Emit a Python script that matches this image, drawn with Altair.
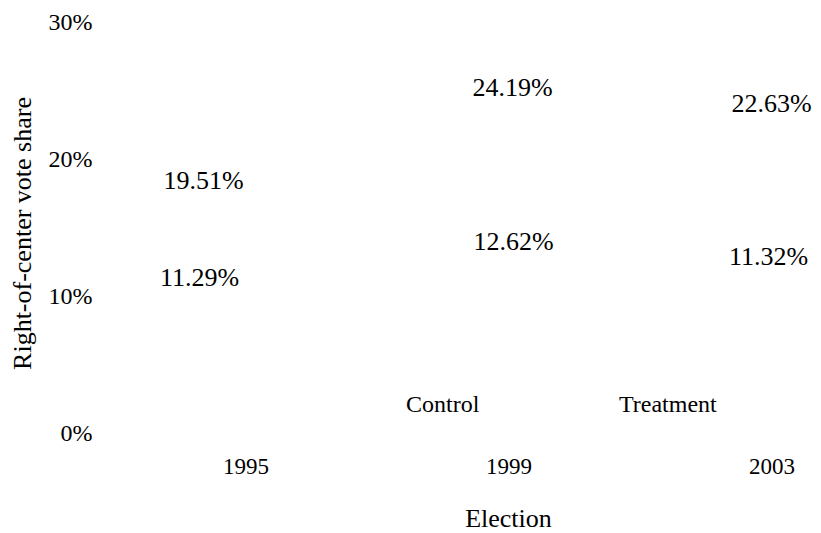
import altair as alt
import pandas as pd

years = [1995, 1999, 2003]
control = [11.29, 12.62, 11.32]
treatment = [19.51, 24.19, 22.63]
groups = ["Control", "Treatment"]
y_ticks = [0, 10, 20, 30]

rows = []
for i, yr in enumerate(years):
    rows.append({"year": yr, "group": "Control", "share": control[i]})
    rows.append({"year": yr, "group": "Treatment", "share": treatment[i]})
df = pd.DataFrame(rows)
df["label"] = df["share"].map(lambda v: f"{v:.2f}%")

FONT = "Liberation Serif"

x = alt.X(
    "year:Q",
    scale=alt.Scale(domain=[1993, 2003.6], nice=False, zero=False),
    axis=alt.Axis(
        values=years, format="d", title="Election", domain=False, ticks=False,
        grid=False, labelPadding=22, labelFontSize=23, labelFont=FONT,
        labelColor="black", titleFontSize=26, titleFont=FONT, titleFontWeight="normal",
        titleColor="black", titleX=394, titleY=72,
    ),
)
y = alt.Y(
    "share:Q",
    scale=alt.Scale(domain=[0, 30], nice=False),
    axis=alt.Axis(
        values=y_ticks, labelExpr="datum.value + '%'", title="Right-of-center vote share",
        domain=False, ticks=False, grid=False, labelPadding=22, labelFontSize=24,
        labelFont=FONT, labelColor="black", titleFontSize=26, titleFont=FONT,
        titleFontWeight="normal", titleColor="black", titlePadding=13, titleY=211,
    ),
)
color = alt.Color(
    "group:N",
    scale=alt.Scale(domain=groups, range=["black", "black"]),
    legend=alt.Legend(
        title=None, orient="none", legendX=268, legendY=371, direction="horizontal",
        symbolSize=0, symbolOpacity=0, symbolStrokeWidth=0, labelOffset=0,
        columnPadding=115, labelFontSize=24, labelFont=FONT, labelColor="black",
    ),
)

base = alt.Chart(df).encode(x=x, y=y, color=color, text="label:N")

# label placement offsets (style only): (year, group) -> (dx, dy)
label_offsets = {
    (1995, "Treatment"): (-42, 15),
    (1995, "Control"): (-46, 0),
    (1999, "Treatment"): (4, -14),
    (1999, "Control"): (5, -18),
    (2003, "Treatment"): (0, -19),
    (2003, "Control"): (-3, -21),
}

layers = []
for (yr, grp), (ddx, ddy) in label_offsets.items():
    layers.append(
        base.transform_filter(f"datum.year == {yr} && datum.group == '{grp}'").mark_text(
            font=FONT, fontSize=26, dx=ddx, dy=ddy)
    )

chart = alt.layer(*layers).properties(
    width=697, height=411,
    autosize=alt.AutoSizeParams(type="none"),
    padding={"left": 106, "top": 14, "right": 2, "bottom": 100},
    background="white",
).configure_view(stroke=None)

chart.save("out.html", embed_options={"renderer": "svg", "actions": False})
